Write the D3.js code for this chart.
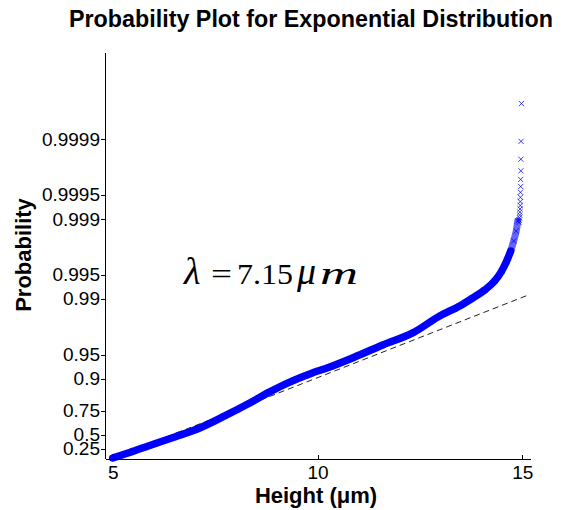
<!DOCTYPE html>
<html>
<head>
<meta charset="utf-8">
<script src="https://cdn.jsdelivr.net/npm/d3@7"></script>
<style>
  html, body { margin: 0; padding: 0; background: #fff; }
  svg { display: block; }
  .axis text { font-family: "Liberation Sans", Arial, sans-serif; font-size: 19px; fill: #000; }
  .axis path, .axis line { stroke: #000; stroke-width: 1; shape-rendering: crispEdges; }
</style>
</head>
<body>
<svg id="chart" width="565" height="510"></svg>
<script>
// Sorted heights (µm) and their cumulative probabilities along the dense part of the sample
const bandHeight = [5.00, 5.415, 5.903, 6.514, 7.124, 7.734, 8.345, 8.833, 9.321, 9.810,
  10.298, 10.908, 11.592, 12.324, 12.983, 13.472, 13.789, 14.082, 14.326, 14.497,
  14.619, 14.717, 14.790, 14.851, 14.888];
const bandProb = [0.020, 0.164, 0.316, 0.465, 0.587, 0.708, 0.799, 0.854, 0.890, 0.913,
  0.9288, 0.9466, 0.9622, 0.9733, 0.9836, 0.98773, 0.99025, 0.99225, 0.99403, 0.99552,
  0.99664, 0.99748, 0.99811, 0.99858, 0.99894];

// Largest observations, plotted one by one
const tailHeight = [14.98, 14.97, 14.965, 14.965, 14.96, 14.96, 14.955, 14.955, 14.95, 14.95,
  14.945, 14.94, 14.935, 14.93, 14.925, 14.92];
const tailProb = [0.999964, 0.999893, 0.999821, 0.999750, 0.999679, 0.999607, 0.999536, 0.999464,
  0.999393, 0.999321, 0.999250, 0.999179, 0.999107, 0.999036, 0.998964, 0.998893];

// Fitted exponential reference line (end points)
const refHeight = [4.96, 15.11];
const refProb = [0.0, 0.9909];

const xTicks = [5, 10, 15];
const probTicks = [0.25, 0.5, 0.75, 0.9, 0.95, 0.99, 0.995, 0.999, 0.9995, 0.9999];
const probTickLabels = ["0.25", "0.5", "0.75", "0.9", "0.95", "0.99", "0.995", "0.999", "0.9995", "0.9999"];

const titleText = "Probability Plot for Exponential Distribution";
const xLabel = "Height (\u03bcm)";
const yLabel = "Probability";

const svg = d3.select("#chart");
const W = 565, H = 510;
const margin = { top: 52, right: 34.3, bottom: 51.3, left: 105 };
const iw = W - margin.left - margin.right;
const ih = H - margin.top - margin.bottom;

// Exponential probability paper: vertical position is -ln(1 - p)
const toExp = p => -Math.log(1 - p);

const x = d3.scaleLinear().domain([4.812, 15.205]).range([0, iw]);
const yT = d3.scaleLinear().domain([0, 11.717]).range([ih, 0]);
const yP = p => yT(toExp(p));

const g = svg.append("g").attr("transform", `translate(${margin.left},${margin.top})`);

// Reference line
g.append("line")
  .attr("x1", x(refHeight[0])).attr("y1", yP(refProb[0]))
  .attr("x2", x(refHeight[1])).attr("y2", yP(refProb[1]))
  .attr("stroke", "#222").attr("stroke-width", 1)
  .attr("stroke-dasharray", "6,4");

const band = bandHeight.map((h, i) => ({ h, p: bandProb[i] }));
const tail = tailHeight.map((h, i) => ({ h, p: tailProb[i] }));

const line = d3.line().x(d => x(d.h)).y(d => yP(d.p)).curve(d3.curveMonotoneX);
const lineY = d3.line().x(d => x(d.h)).y(d => yP(d.p)).curve(d3.curveMonotoneY);

// Dense run of overlapping markers forms a solid band
const solidEnd = 22;
g.append("path")
  .datum(band.slice(0, solidEnd))
  .attr("d", line)
  .attr("fill", "none").attr("stroke", "#0000ff")
  .attr("stroke-width", 7.5).attr("stroke-linecap", "round").attr("stroke-linejoin", "round");
g.append("path")
  .datum(band.slice(solidEnd - 1))
  .attr("d", lineY)
  .attr("fill", "none").attr("stroke", "#0000ff").attr("stroke-opacity", 0.6)
  .attr("stroke-width", 7).attr("stroke-linecap", "round").attr("stroke-linejoin", "round");

// 'x' markers
const s = 2.6;
const crossPath = `M${-s},${-s}L${s},${s}M${-s},${s}L${s},${-s}`;
g.append("g").selectAll("path")
  .data(band.concat(tail))
  .join("path")
  .attr("transform", d => `translate(${x(d.h)},${yP(d.p)})`)
  .attr("d", crossPath)
  .attr("fill", "none").attr("stroke", "#0000ff").attr("stroke-width", 1)
  .attr("stroke-opacity", 0.75);

// Axes (no box on top/right)
const xAxis = d3.axisBottom(x).tickValues(xTicks).tickFormat(d3.format("d"))
  .tickSizeInner(-4).tickSizeOuter(0).tickPadding(7);
g.append("g").attr("class", "axis").attr("transform", `translate(0,${ih})`).call(xAxis);

const yAxis = d3.axisLeft(yT)
  .tickValues(probTicks.map(toExp))
  .tickFormat((d, i) => probTickLabels[i])
  .tickSizeInner(4).tickSizeOuter(0).tickPadding(1);
g.append("g").attr("class", "axis").call(yAxis);

// Title and axis labels
svg.append("text")
  .attr("x", 69).attr("y", 27)
  .attr("text-anchor", "start")
  .attr("textLength", 484).attr("lengthAdjust", "spacingAndGlyphs")
  .style("font-family", "'Liberation Sans', Arial, sans-serif")
  .style("font-weight", "bold").style("font-size", "23px")
  .text(titleText);

svg.append("text")
  .attr("x", 316).attr("y", 503)
  .attr("text-anchor", "middle")
  .style("font-family", "'Liberation Sans', Arial, sans-serif")
  .style("font-weight", "bold").style("font-size", "22px")
  .text(xLabel);

svg.append("text")
  .attr("transform", "translate(31,255) rotate(-90)")
  .attr("text-anchor", "middle")
  .style("font-family", "'Liberation Sans', Arial, sans-serif")
  .style("font-weight", "bold").style("font-size", "22px")
  .text(yLabel);

// Fitted parameter annotation: λ = 7.15 μm
const annParts = [
  { t: "\u03bb", x: 184, w: null, size: 38, italic: true },
  { t: "=", x: 211, w: 21, size: 30, italic: false },
  { t: "7.15", x: 237, w: 56, size: 30, italic: false },
  { t: "\u03bc", x: 297, w: null, size: 38, italic: true },
  { t: "m", x: 320, w: 38, size: 32, italic: true }
];
svg.append("g").selectAll("text")
  .data(annParts)
  .join("text")
  .attr("x", d => d.x).attr("y", 283.5)
  .attr("textLength", d => d.w)
  .attr("lengthAdjust", d => d.w ? "spacingAndGlyphs" : null)
  .style("font-family", "'Liberation Serif', 'Times New Roman', serif")
  .style("font-size", d => d.size + "px")
  .style("font-style", d => d.italic ? "italic" : "normal")
  .text(d => d.t);
</script>
</body>
</html>
